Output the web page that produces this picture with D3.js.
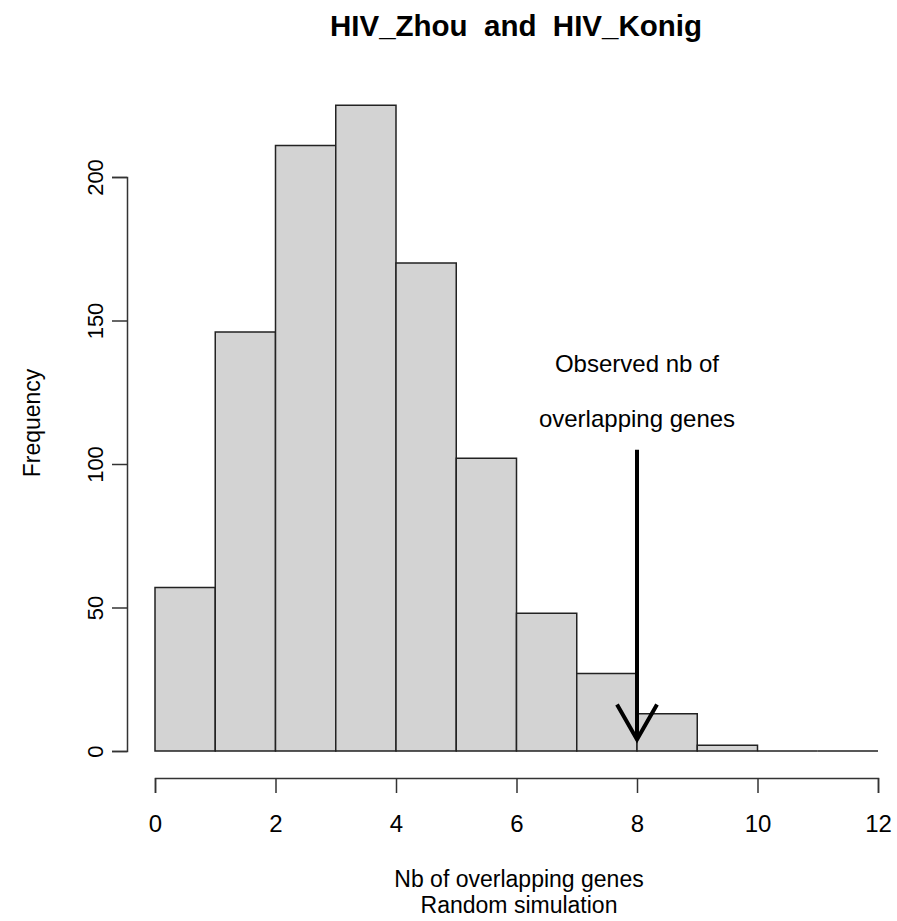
<!DOCTYPE html>
<html>
<head>
    <title>HIV_Zhou and HIV_Konig</title>
    <script src="https://d3js.org/d3.v7.min.js"></script>
    <style>
        body { margin: 0; background: #fff; }
        text { font-family: "Liberation Sans", Arial, sans-serif; fill: #000; }
    </style>
</head>
<body>
    <svg width="897" height="921"></svg>

    <script>
        // histogram bins (left edges) and counts
        const binStarts = [0, 1, 2, 3, 4, 5, 6, 7, 8, 9, 10, 11];
        const counts = [57, 146, 211, 225, 170, 102, 48, 27, 13, 2, 0, 0];
        const binWidth = 1;

        const xTicks = [0, 2, 4, 6, 8, 10, 12];
        const yTicks = [0, 50, 100, 150, 200];

        // observed value marker
        const observed = 8;
        const arrowFrom = 105;
        const arrowTo = 4;
        const noteLines = ["Observed nb of", "overlapping genes"];
        const xTitleLines = ["Nb of overlapping genes", "Random simulation"];

        const svg = d3.select("svg");

        const x = d3.scaleLinear().domain([0, 12]).range([155, 878]);
        const y = d3.scaleLinear().domain([0, 200]).range([751, 177]);

        // bars as closed paths, so empty bins still show as a line on the baseline
        svg.append("g")
            .selectAll("path")
            .data(binStarts.map((b, i) => ({ x0: b, x1: b + binWidth, n: counts[i] })))
            .join("path")
            .attr("d", d => {
                const l = x(d.x0), r = x(d.x1), t = y(d.n), b = y(0);
                return `M${l},${b}V${t}H${r}V${b}Z`;
            })
            .attr("fill", "#d3d3d3")
            .attr("stroke", "#222")
            .attr("stroke-width", 1.5);

        // x axis, offset below the bars like base R
        const xAxis = svg.append("g")
            .attr("transform", "translate(0,778)")
            .call(d3.axisBottom(x).tickValues(xTicks).tickSize(15).tickPadding(22).tickFormat(d3.format("d")));
        xAxis.select(".domain").attr("stroke", "#333").attr("stroke-width", 1.5);
        xAxis.selectAll(".tick line").attr("stroke", "#333").attr("stroke-width", 1.5);
        xAxis.selectAll("text").attr("font-size", 24).attr("font-family", "Liberation Sans");

        // y axis
        const yAxis = svg.append("g")
            .attr("transform", "translate(127,0)")
            .call(d3.axisLeft(y).tickValues(yTicks).tickSize(15).tickPadding(12));
        yAxis.select(".domain").attr("stroke", "#333").attr("stroke-width", 1.5);
        yAxis.selectAll(".tick line").attr("stroke", "#333").attr("stroke-width", 1.5);
        yAxis.selectAll("text")
            .attr("font-size", 22)
            .attr("font-family", "Liberation Sans")
            .attr("text-anchor", "middle")
            .attr("x", 0).attr("dy", 0)
            .attr("transform", "translate(-24,0) rotate(-90)");

        // title and axis labels
        svg.append("text")
            .attr("x", 516).attr("y", 36)
            .attr("text-anchor", "middle")
            .attr("font-size", 29.5)
            .attr("font-weight", "bold")
            .style("white-space", "pre")
            .text("HIV_Zhou  and  HIV_Konig");

        svg.append("g")
            .selectAll("text")
            .data(xTitleLines)
            .join("text")
            .attr("x", 519)
            .attr("y", (d, i) => 887 + i * 26)
            .attr("text-anchor", "middle")
            .attr("font-size", 23)
            .text(d => d);

        svg.append("text")
            .attr("transform", "translate(40,423) rotate(-90)")
            .attr("text-anchor", "middle")
            .attr("font-size", 23)
            .text("Frequency");

        // annotation
        svg.append("g")
            .selectAll("text")
            .data(noteLines)
            .join("text")
            .attr("x", x(observed))
            .attr("y", (d, i) => 372 + i * 55)
            .attr("text-anchor", "middle")
            .attr("font-size", 24)
            .text(d => d);

        const ax = x(observed), ay0 = y(arrowFrom), ay1 = y(arrowTo);
        const arrow = svg.append("g")
            .attr("stroke", "#000")
            .attr("stroke-width", 4)
            .attr("fill", "none");
        arrow.append("line")
            .attr("x1", ax).attr("y1", ay0)
            .attr("x2", ax).attr("y2", ay1);
        arrow.append("path")
            .attr("d", d3.line()([[ax - 20, ay1 - 35], [ax, ay1], [ax + 20, ay1 - 35]]))
            .attr("stroke-linejoin", "miter");
    </script>
</body>
</html>
